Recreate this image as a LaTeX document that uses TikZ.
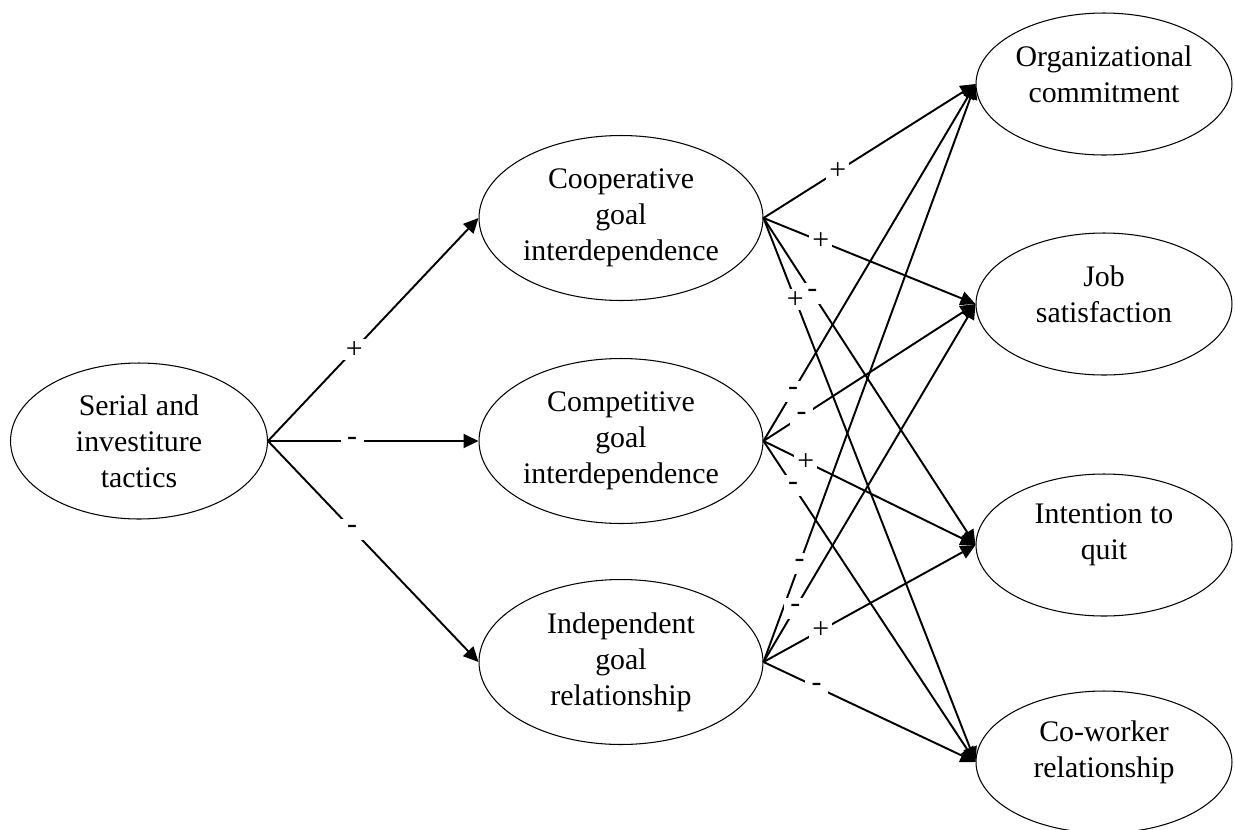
\documentclass[tikz,border=0pt]{standalone}
\usepackage{fontspec}
\setmainfont{Liberation Serif}
\usetikzlibrary{arrows.meta,shapes.geometric}
\tikzset{
  oval/.style={draw, ellipse, line width=0.6pt, inner sep=0pt, align=center,
    font=\fontsize{17}{20.5}\selectfont},
  tactic/.style={oval, minimum width=5.14cm, minimum height=3.12cm},
  goal/.style={oval, minimum width=5.68cm, minimum height=3.3cm},
  outcome/.style={oval, minimum width=5.12cm, minimum height=2.84cm},
  txt/.style={align=center, font=\fontsize{17}{20.5}\selectfont, yshift=0.2cm},
  arr/.style={-{Triangle[length=0.3cm,width=0.28cm]}, line width=1.1pt},
  sign/.style={fill=white, inner sep=0pt, minimum width=0.46cm, minimum height=0.42cm,
    font=\fontsize{17}{20}\selectfont}
}
\begin{document}
\begin{tikzpicture}[x=0.02cm, y=-0.02cm]
\useasboundingbox (0,0) rectangle (1235,829);
% antecedent
\node[tactic] (serial) at (139,441) {Serial and\\investiture\\tactics};
% goal structures
\node[goal] (coop) at (621,218) {Cooperative\\goal\\interdependence};
\node[goal] (comp) at (621,441) {Competitive\\goal\\interdependence};
\node[goal] (indep) at (621,662) {Independent\\goal\\relationship};
% outcomes
\node[outcome, label={[txt]center:{Organizational\\commitment}}] (org) at (1104,84) {};
\node[outcome, label={[txt]center:{Job\\satisfaction}}] (job) at (1104,304) {};
\node[outcome, label={[txt]center:{Intention to\\quit}}] (quit) at (1104,545) {};
\node[outcome, label={[txt]center:{Co-worker\\relationship}}] (cowork) at (1104,762) {};

\draw[arr] (serial.east) -- node[sign,pos=.41]{+} (coop.west);
\draw[arr] (serial.east) -- node[sign,pos=.40]{-} (comp.west);
\draw[arr] (serial.east) -- node[sign,pos=.40]{-} (indep.west);

\draw[arr] (coop.east) -- node[sign,pos=.35]{+} (org.west);
\draw[arr] (coop.east) -- node[sign,pos=.27]{+} (job.west);
\draw[arr] (coop.east) -- node[sign,pos=.23]{-} (quit.west);
\draw[arr] (coop.east) -- node[sign,pos=.15]{+} (cowork.west);

\draw[arr] (comp.east) -- node[sign,pos=.14]{-} (org.west);
\draw[arr] (comp.east) -- node[sign,pos=.18]{-} (job.west);
\draw[arr] (comp.east) -- node[sign,pos=.20]{+} (quit.west);
\draw[arr] (comp.east) -- node[sign,pos=.14]{-} (cowork.west);

\draw[arr] (indep.east) -- node[sign,pos=.17]{-} (org.west);
\draw[arr] (indep.east) -- node[sign,pos=.15]{-} (job.west);
\draw[arr] (indep.east) -- node[sign,pos=.27]{+} (quit.west);
\draw[arr] (indep.east) -- node[sign,pos=.25]{-} (cowork.west);
\end{tikzpicture}
\end{document}
